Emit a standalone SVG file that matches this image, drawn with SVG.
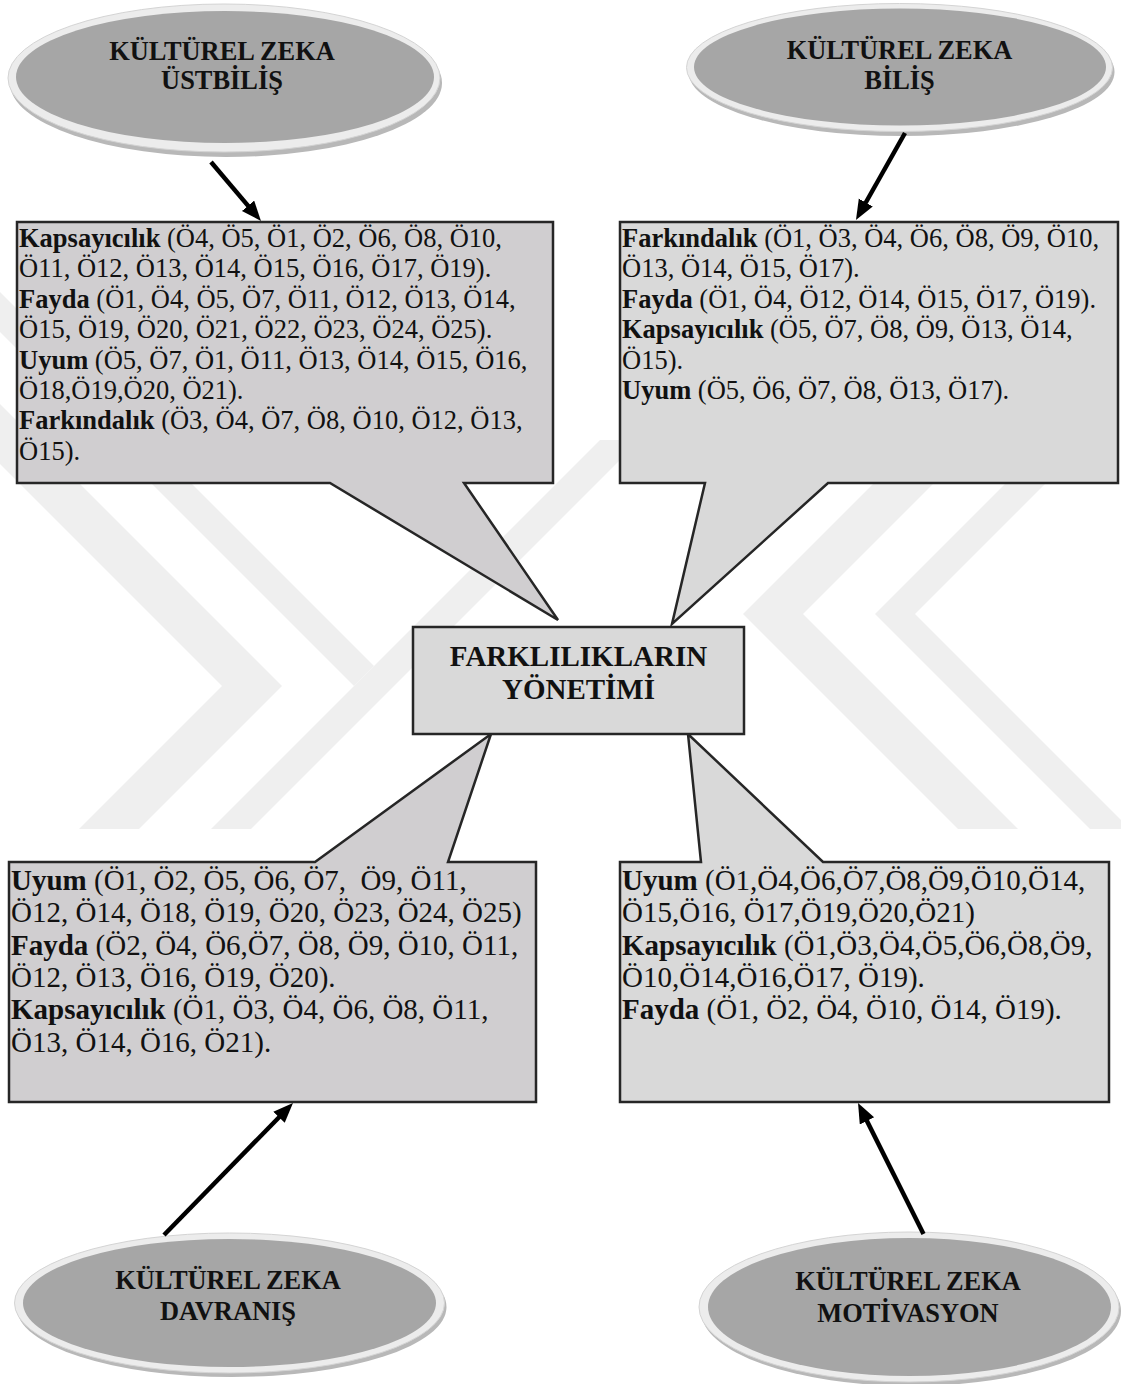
<svg xmlns="http://www.w3.org/2000/svg" width="1121" height="1384" viewBox="0 0 1121 1384">
<style>
  .wm { fill: #efefef; }
  .rim { fill: #ececec; stroke: #d4d4d4; stroke-width: 1; }
  .shadow { fill: #b8b8b8; }
  .core { fill: #a6a6a6; }
  .etext { font-family: "Liberation Serif", "Times New Roman", serif; font-size: 26.4px; font-weight: bold; fill: #111; text-anchor: middle; }
  .box { stroke: #262626; stroke-width: 2.5; stroke-linejoin: miter; }
  .f1 { fill: #d0ced0; }
  .f2 { fill: #d9d9d9; }
  .t26 { font-family: "Liberation Serif", "Times New Roman", serif; font-size: 26.5px; fill: #111; }
  .t29 { font-family: "Liberation Serif", "Times New Roman", serif; font-size: 29px; fill: #111; }
  .b { font-weight: bold; }
  .title { font-family: "Liberation Serif", "Times New Roman", serif; font-size: 29px; font-weight: bold; fill: #111; text-anchor: middle; }
  .arrow { stroke: #000; stroke-width: 4.5; fill: none; marker-end: url(#ah); }
</style>
<defs>
  <marker id="ah" markerUnits="userSpaceOnUse" markerWidth="22" markerHeight="18" refX="12" refY="8" orient="auto">
    <path d="M0,0 L20,8 L0,16 Z" fill="#000"/>
  </marker>
</defs>
<rect x="0" y="0" width="1121" height="1384" fill="#ffffff"/>

<g id="watermark">
  <polygon class="wm" points="0,404 282,686 139,829 79,829 222,686 0,464"/>
  <polygon class="wm" points="0,292 374,666 354,686 0,332"/>
  <polygon class="wm" points="600,440 640,440 251,829 211,829"/>
  <polygon class="wm" points="917,440 743,614 958,829 1018,829 803,614 977,440"/>
  <polygon class="wm" points="1049,440 875,614 1090,829 1121,829 1121,820 915,614 1089,440"/>
</g>

<g id="callout-top-left">
  <path class="box f1" d="M17,222 H553 V483 H464 L558,620 L330,483 H17 Z"/>
  <text class="t26" x="19" y="247"><tspan class="b">Kapsayıcılık</tspan> (Ö4, Ö5, Ö1, Ö2, Ö6, Ö8, Ö10,</text>
  <text class="t26" x="19" y="277.4">Ö11, Ö12, Ö13, Ö14, Ö15, Ö16, Ö17, Ö19).</text>
  <text class="t26" x="19" y="307.8"><tspan class="b">Fayda</tspan> (Ö1, Ö4, Ö5, Ö7, Ö11, Ö12, Ö13, Ö14,</text>
  <text class="t26" x="19" y="338.2">Ö15, Ö19, Ö20, Ö21, Ö22, Ö23, Ö24, Ö25).</text>
  <text class="t26" x="19" y="368.6"><tspan class="b">Uyum</tspan> (Ö5, Ö7, Ö1, Ö11, Ö13, Ö14, Ö15, Ö16,</text>
  <text class="t26" x="19" y="399">Ö18,Ö19,Ö20, Ö21).</text>
  <text class="t26" x="19" y="429.4"><tspan class="b">Farkındalık</tspan> (Ö3, Ö4, Ö7, Ö8, Ö10, Ö12, Ö13,</text>
  <text class="t26" x="19" y="459.8">Ö15).</text>
</g>

<g id="callout-top-right">
  <path class="box f2" d="M620,222 H1118 V483 H828 L672,624 L705,483 H620 Z"/>
  <text class="t26" x="622" y="247"><tspan class="b">Farkındalık</tspan> (Ö1, Ö3, Ö4, Ö6, Ö8, Ö9, Ö10,</text>
  <text class="t26" x="622" y="277.4">Ö13, Ö14, Ö15, Ö17).</text>
  <text class="t26" x="622" y="307.8"><tspan class="b">Fayda</tspan> (Ö1, Ö4, Ö12, Ö14, Ö15, Ö17, Ö19).</text>
  <text class="t26" x="622" y="338.2"><tspan class="b">Kapsayıcılık</tspan> (Ö5, Ö7, Ö8, Ö9, Ö13, Ö14,</text>
  <text class="t26" x="622" y="368.6">Ö15).</text>
  <text class="t26" x="622" y="399"><tspan class="b">Uyum</tspan> (Ö5, Ö6, Ö7, Ö8, Ö13, Ö17).</text>
</g>

<g id="callout-bottom-left">
  <path class="box f1" d="M9,862 H315 L491,734 L448,862 H536 V1102 H9 Z"/>
  <text class="t29" x="11" y="890" xml:space="preserve"><tspan class="b">Uyum</tspan> (Ö1, Ö2, Ö5, Ö6, Ö7,  Ö9, Ö11,</text>
  <text class="t29" x="11" y="922.3">Ö12, Ö14, Ö18, Ö19, Ö20, Ö23, Ö24, Ö25)</text>
  <text class="t29" x="11" y="954.6"><tspan class="b">Fayda</tspan> (Ö2, Ö4, Ö6,Ö7, Ö8, Ö9, Ö10, Ö11,</text>
  <text class="t29" x="11" y="986.9">Ö12, Ö13, Ö16, Ö19, Ö20).</text>
  <text class="t29" x="11" y="1019.2"><tspan class="b">Kapsayıcılık</tspan> (Ö1, Ö3, Ö4, Ö6, Ö8, Ö11,</text>
  <text class="t29" x="11" y="1051.5">Ö13, Ö14, Ö16, Ö21).</text>
</g>

<g id="callout-bottom-right">
  <path class="box f2" d="M620,862 H701 L688,734 L823,862 H1109 V1102 H620 Z"/>
  <text class="t29" x="622" y="890"><tspan class="b">Uyum</tspan> (Ö1,Ö4,Ö6,Ö7,Ö8,Ö9,Ö10,Ö14,</text>
  <text class="t29" x="622" y="922.3">Ö15,Ö16, Ö17,Ö19,Ö20,Ö21)</text>
  <text class="t29" x="622" y="954.6"><tspan class="b">Kapsayıcılık</tspan> (Ö1,Ö3,Ö4,Ö5,Ö6,Ö8,Ö9,</text>
  <text class="t29" x="622" y="986.9">Ö10,Ö14,Ö16,Ö17, Ö19).</text>
  <text class="t29" x="622" y="1019.2"><tspan class="b">Fayda</tspan> (Ö1, Ö2, Ö4, Ö10, Ö14, Ö19).</text>
</g>

<g id="center-node">
  <rect class="box f2" x="413" y="627" width="331" height="107"/>
  <text class="title" x="578.5" y="665.5">FARKLILIKLARIN</text>
  <text class="title" x="578.5" y="699">YÖNETİMİ</text>
</g>

<g id="ellipse-ustbilis">
  <ellipse class="shadow" cx="226" cy="83" rx="216" ry="74"/>
  <ellipse class="rim" cx="224" cy="78" rx="216" ry="74"/>
  <ellipse class="core" cx="225" cy="77" rx="209" ry="66"/>
  <text class="etext" x="222" y="59.5">KÜLTÜREL ZEKA</text>
  <text class="etext" x="222" y="88.5">ÜSTBİLİŞ</text>
</g>

<g id="ellipse-bilis">
  <ellipse class="shadow" cx="901.5" cy="72" rx="213" ry="64"/>
  <ellipse class="rim" cx="899.5" cy="67.5" rx="213" ry="64"/>
  <ellipse class="core" cx="900" cy="67" rx="206" ry="58.5"/>
  <text class="etext" x="899.5" y="59">KÜLTÜREL ZEKA</text>
  <text class="etext" x="899.5" y="89">BİLİŞ</text>
</g>

<g id="ellipse-davranis">
  <ellipse class="shadow" cx="231.5" cy="1307" rx="215" ry="70"/>
  <ellipse class="rim" cx="229.5" cy="1303" rx="215" ry="70"/>
  <ellipse class="core" cx="229.5" cy="1303" rx="206.5" ry="64"/>
  <text class="etext" x="228" y="1289">KÜLTÜREL ZEKA</text>
  <text class="etext" x="228" y="1320">DAVRANIŞ</text>
</g>

<g id="ellipse-motivasyon">
  <ellipse class="shadow" cx="911" cy="1311" rx="210" ry="75"/>
  <ellipse class="rim" cx="909" cy="1307" rx="210" ry="75"/>
  <ellipse class="core" cx="909.5" cy="1307" rx="201.5" ry="69"/>
  <text class="etext" x="908" y="1290">KÜLTÜREL ZEKA</text>
  <text class="etext" x="908" y="1322">MOTİVASYON</text>
</g>

<g id="connectors">
  <line class="arrow" x1="211" y1="162" x2="255.8" y2="214.9"/>
  <line class="arrow" x1="905" y1="133" x2="859.9" y2="213"/>
  <line class="arrow" x1="164" y1="1235" x2="287.4" y2="1108.7"/>
  <line class="arrow" x1="923.5" y1="1234" x2="861.6" y2="1110.2"/>
</g>
</svg>
